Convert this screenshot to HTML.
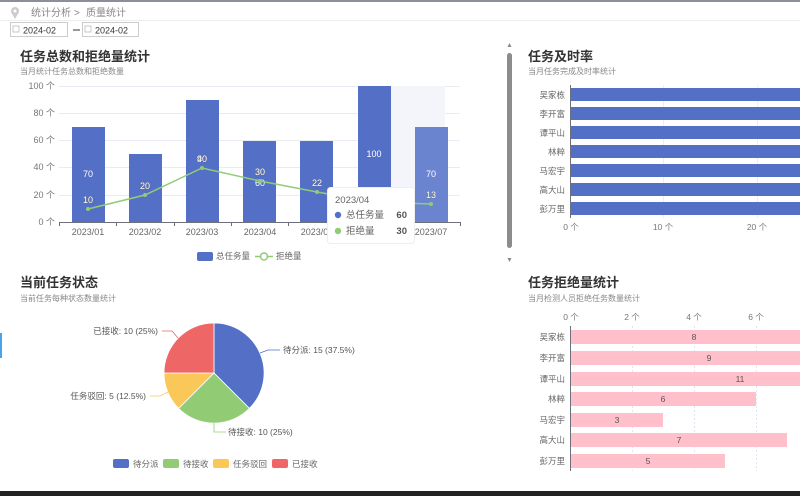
<!DOCTYPE html>
<html><head><meta charset="utf-8"><style>
html,body{margin:0;padding:0;width:800px;height:496px;overflow:hidden;background:#fff;font-family:"Liberation Sans","Noto Sans CJK SC",sans-serif;}
svg{position:absolute;left:0;top:0}
</style></head><body>
<svg width="800" height="496" viewBox="0 0 800 496" font-family="Liberation Sans, Noto Sans CJK SC, sans-serif">
<rect x="0" y="0" width="800" height="2" fill="#8a8f99"/>
<rect x="0" y="491" width="800" height="5" fill="#222"/>
<rect x="0" y="333" width="2" height="25" fill="#4aa3e8"/>
<line x1="0" y1="20.5" x2="800" y2="20.5" stroke="#eee"/>
<!-- breadcrumb -->
<circle cx="15" cy="11" r="4" fill="#ccc"/><path d="M11 12 L15 19 L19 12Z" fill="#ccc"/><circle cx="15" cy="11" r="1.5" fill="#fff"/>
<text x="31" y="16" font-size="10" fill="#888">统计分析</text>
<text x="74" y="16" font-size="10" fill="#888">&gt;</text>
<text x="86" y="16" font-size="10" fill="#888">质量统计</text>
<!-- date inputs -->
<rect x="10.5" y="22.5" width="57" height="14" fill="#fff" stroke="#ccc"/>
<rect x="13" y="26" width="6" height="6" fill="none" stroke="#bbb" stroke-width="0.8"/>
<text x="23" y="33.5" font-size="9" fill="#333">2024-02</text>
<line x1="73" y1="30" x2="80" y2="30" stroke="#333"/>
<rect x="82.5" y="22.5" width="56" height="14" fill="#fff" stroke="#ccc"/>
<rect x="85" y="26" width="6" height="6" fill="none" stroke="#bbb" stroke-width="0.8"/>
<text x="95" y="33.5" font-size="9" fill="#333">2024-02</text>

<!-- chart 1 -->
<text x="20" y="61" font-size="13" font-weight="bold" fill="#333">任务总数和拒绝量统计</text>
<text x="20" y="74" font-size="8" fill="#888">当月统计任务总数和拒绝数量</text>
<g stroke="#e8ebf2" stroke-width="1">
<line x1="59" y1="86.5" x2="460" y2="86.5"/><line x1="59" y1="113.5" x2="460" y2="113.5"/><line x1="59" y1="140.5" x2="460" y2="140.5"/><line x1="59" y1="167.5" x2="460" y2="167.5"/><line x1="59" y1="195.5" x2="460" y2="195.5"/>
</g>
<rect x="390" y="86" width="55" height="136" fill="#f3f5fb"/>
<g font-size="9" fill="#777" text-anchor="end">
<text x="55" y="89">100 个</text><text x="55" y="116">80 个</text><text x="55" y="143">60 个</text><text x="55" y="170">40 个</text><text x="55" y="198">20 个</text><text x="55" y="225">0 个</text>
</g>
<g fill="#5470c6">
<rect x="72" y="127" width="33" height="95"/>
<rect x="129" y="154" width="33" height="68"/>
<rect x="186" y="100" width="33" height="122"/>
<rect x="243" y="141" width="33" height="81"/>
<rect x="300" y="141" width="33" height="81"/>
<rect x="358" y="86" width="33" height="136"/>
<rect x="415" y="127" width="33" height="95" fill="#6b84d0"/>
</g>
<line x1="59" y1="222.5" x2="460" y2="222.5" stroke="#6e7079"/>
<g stroke="#6e7079"><line x1="59.5" y1="222" x2="59.5" y2="226"/><line x1="116.5" y1="222" x2="116.5" y2="226"/><line x1="174.5" y1="222" x2="174.5" y2="226"/><line x1="231.5" y1="222" x2="231.5" y2="226"/><line x1="288.5" y1="222" x2="288.5" y2="226"/><line x1="345.5" y1="222" x2="345.5" y2="226"/><line x1="403.5" y1="222" x2="403.5" y2="226"/><line x1="460.5" y1="222" x2="460.5" y2="226"/></g>
<g font-size="9" fill="#666" text-anchor="middle">
<text x="88" y="235">2023/01</text><text x="145" y="235">2023/02</text><text x="202" y="235">2023/03</text><text x="260" y="235">2023/04</text><text x="317" y="235">2023/05</text><text x="431" y="235">2023/07</text>
</g>
<g font-size="9" fill="#fff" text-anchor="middle">
<text x="88" y="177">70</text><text x="260" y="186">60</text><text x="374" y="157">100</text><text x="431" y="177">70</text><text x="202" y="162">90</text>
</g>
<polyline points="88,209 145,195 202,168 260,181 317,192 374,202 431,204" fill="none" stroke="#91cc75" stroke-width="1.5"/>
<g fill="#91cc75"><circle cx="88" cy="209" r="2"/><circle cx="145" cy="195" r="2"/><circle cx="202" cy="168" r="2"/><circle cx="260" cy="181" r="2"/><circle cx="317" cy="192" r="2"/><circle cx="431" cy="204" r="2"/></g>
<g font-size="9" fill="#fff" stroke="#666" stroke-width="0.6" text-anchor="middle" paint-order="stroke">
<text x="88" y="203">10</text><text x="145" y="189">20</text><text x="202" y="162">40</text><text x="260" y="175">30</text><text x="317" y="186">22</text><text x="431" y="198">13</text>
</g>
<rect x="327.5" y="187.5" width="87" height="56" rx="3" fill="#fff" stroke="#eee"/>
<text x="335" y="203" font-size="9.5" fill="#666">2023/04</text>
<circle cx="338" cy="215" r="3.2" fill="#5470c6"/><text x="346" y="218" font-size="9.5" fill="#666">总任务量</text><text x="407" y="218" font-size="9.5" font-weight="bold" fill="#555" text-anchor="end">60</text>
<circle cx="338" cy="231" r="3.2" fill="#91cc75"/><text x="346" y="234" font-size="9.5" fill="#666">拒绝量</text><text x="407" y="234" font-size="9.5" font-weight="bold" fill="#555" text-anchor="end">30</text>
<rect x="197" y="252" width="16" height="9" rx="2" fill="#5470c6"/><text x="216" y="259" font-size="8.5" fill="#666">总任务量</text>
<line x1="255" y1="256.5" x2="273" y2="256.5" stroke="#91cc75" stroke-width="1.5"/><circle cx="264" cy="256.5" r="3.5" fill="#fff" stroke="#91cc75" stroke-width="1.5"/><text x="276" y="259" font-size="8.5" fill="#666">拒绝量</text>

<!-- scrollbar -->
<rect x="507" y="53" width="5" height="195" rx="2.5" fill="#8c8c8c"/>
<path d="M507.5 47 L511.5 47 L509.5 43Z" fill="#888"/><path d="M507.5 258 L511.5 258 L509.5 262Z" fill="#888"/>

<!-- chart 2 -->
<text x="528" y="61" font-size="13" font-weight="bold" fill="#333">任务及时率</text>
<text x="528" y="74" font-size="8" fill="#888">当月任务完成及时率统计</text>
<g stroke="#eee"><line x1="663.5" y1="85" x2="663.5" y2="218"/><line x1="757.5" y1="85" x2="757.5" y2="218"/></g>
<g fill="#5470c6">
<rect x="571" y="88" width="229" height="13"/><rect x="571" y="107" width="229" height="13"/><rect x="571" y="126" width="229" height="13"/><rect x="571" y="145" width="229" height="13"/><rect x="571" y="164" width="229" height="13"/><rect x="571" y="183" width="229" height="13"/><rect x="571" y="202" width="229" height="13"/>
</g>
<line x1="570.5" y1="85" x2="570.5" y2="218" stroke="#6e7079"/>
<g font-size="8.5" fill="#666" text-anchor="end">
<text x="565" y="98">吴家栋</text><text x="565" y="117">李开富</text><text x="565" y="136">谭平山</text><text x="565" y="155">林粹</text><text x="565" y="174">马宏宇</text><text x="565" y="193">高大山</text><text x="565" y="212">彭万里</text>
</g>
<g font-size="8.5" fill="#777" text-anchor="middle"><text x="571" y="230">0 个</text><text x="663" y="230">10 个</text><text x="757" y="230">20 个</text></g>

<!-- chart 3 pie -->
<text x="20" y="287" font-size="13" font-weight="bold" fill="#333">当前任务状态</text>
<text x="20" y="301" font-size="8" fill="#888">当前任务每种状态数量统计</text>
<g stroke="#fff" stroke-width="0.8">
<path d="M214 373 L214 323 A50 50 0 0 1 249.4 408.4 Z" fill="#5470c6"/>
<path d="M214 373 L249.4 408.4 A50 50 0 0 1 178.6 408.4 Z" fill="#91cc75"/>
<path d="M214 373 L178.6 408.4 A50 50 0 0 1 164 373 Z" fill="#fac858"/>
<path d="M214 373 L164 373 A50 50 0 0 1 214 323 Z" fill="#ee6666"/>
</g>
<polyline points="260,353 268,350 280,350" fill="none" stroke="#5470c6" stroke-width="0.8"/>
<text x="283" y="353" font-size="8.5" fill="#555">待分派: 15 (37.5%)</text>
<polyline points="214,423 214,432 226,432" fill="none" stroke="#91cc75" stroke-width="0.8"/>
<text x="228" y="435" font-size="8.5" fill="#555">待接收: 10 (25%)</text>
<polyline points="168,392 160,396 150,396" fill="none" stroke="#fac858" stroke-width="0.8"/>
<text x="146" y="399" font-size="8.5" fill="#555" text-anchor="end">任务驳回: 5 (12.5%)</text>
<polyline points="178,338 172,331 162,331" fill="none" stroke="#ee6666" stroke-width="0.8"/>
<text x="158" y="334" font-size="8.5" fill="#555" text-anchor="end">已接收: 10 (25%)</text>
<g font-size="8.5" fill="#666">
<rect x="113" y="459" width="16" height="9" rx="2" fill="#5470c6"/><text x="133" y="467">待分派</text>
<rect x="163" y="459" width="16" height="9" rx="2" fill="#91cc75"/><text x="183" y="467">待接收</text>
<rect x="213" y="459" width="16" height="9" rx="2" fill="#fac858"/><text x="233" y="467">任务驳回</text>
<rect x="272" y="459" width="16" height="9" rx="2" fill="#ee6666"/><text x="292" y="467">已接收</text>
</g>

<!-- chart 4 -->
<text x="528" y="287" font-size="13" font-weight="bold" fill="#333">任务拒绝量统计</text>
<text x="528" y="301" font-size="8" fill="#888">当月检测人员拒绝任务数量统计</text>
<g font-size="8.5" fill="#777" text-anchor="middle"><text x="571" y="320">0 个</text><text x="632" y="320">2 个</text><text x="694" y="320">4 个</text><text x="756" y="320">6 个</text></g>
<g stroke="#e0e6f1" stroke-dasharray="2,2"><line x1="632.5" y1="326" x2="632.5" y2="471"/><line x1="694.5" y1="326" x2="694.5" y2="471"/><line x1="756.5" y1="326" x2="756.5" y2="471"/></g>
<g fill="#ffc0cb">
<rect x="571" y="330" width="229" height="14"/><rect x="571" y="351" width="229" height="14"/><rect x="571" y="372" width="229" height="14"/><rect x="571" y="392" width="185" height="14"/><rect x="571" y="413" width="92" height="14"/><rect x="571" y="433" width="216" height="14"/><rect x="571" y="454" width="154" height="14"/>
</g>
<line x1="570.5" y1="326" x2="570.5" y2="471" stroke="#6e7079"/>
<g font-size="8.5" fill="#555" text-anchor="middle">
<text x="694" y="340">8</text><text x="709" y="361">9</text><text x="740" y="382">11</text><text x="663" y="402">6</text><text x="617" y="423">3</text><text x="679" y="443">7</text><text x="648" y="464">5</text>
</g>
<g font-size="8.5" fill="#666" text-anchor="end">
<text x="565" y="340">吴家栋</text><text x="565" y="361">李开富</text><text x="565" y="382">谭平山</text><text x="565" y="402">林粹</text><text x="565" y="423">马宏宇</text><text x="565" y="443">高大山</text><text x="565" y="464">彭万里</text>
</g>
</svg>
</body></html>
